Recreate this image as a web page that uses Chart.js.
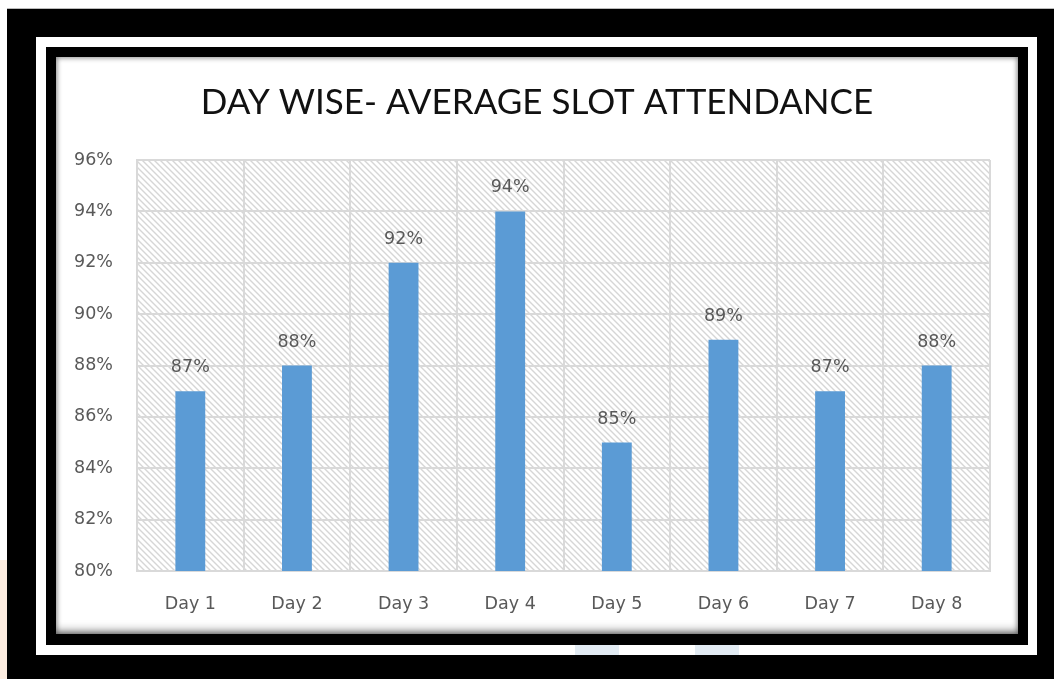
<!DOCTYPE html>
<html>
<head>
<meta charset="utf-8">
<script src="https://cdn.jsdelivr.net/npm/chart.js"></script>
<style>
  html, body { margin: 0; padding: 0; background: #fff; }
  #wrap { position: relative; width: 1054px; height: 679px; overflow: hidden; background: #fff; }
  .box { position: absolute; }
  #outer { left: 7px; top: 8px; width: 1047px; height: 671px; background: #000; border-top: 1px solid #bbb; }
  #band { left: 36px; top: 37px; width: 1001px; height: 618px; background: #fff; }
  #inner { left: 46px; top: 47px; width: 982px; height: 598px; background: #000; }
  #panel { left: 56px; top: 57px; width: 962px; height: 577px; background: #fff;
           box-shadow: inset 0 0 5px 1px rgba(0,0,0,0.45), inset 0 -9px 9px -5px rgba(0,0,0,0.35); }
  #tint1 { left: 0; top: 560px; width: 7px; height: 119px; background: #fcece0; }
  #tint2 { left: 575px; top: 645px; width: 44px; height: 10px; background: #e2ebf3; }
  #tint3 { left: 695px; top: 645px; width: 44px; height: 10px; background: #e2ebf3; }
  canvas { position: absolute; left: 0; top: 0; }
</style>
</head>
<body>
<div id="wrap">
  <div class="box" id="tint1"></div>
  <div class="box" id="outer"></div>
  <div class="box" id="band"></div>
  <div class="box" id="tint2"></div>
  <div class="box" id="tint3"></div>
  <div class="box" id="inner"></div>
  <div class="box" id="panel"></div>
  <canvas id="chart" width="1054" height="679"></canvas>
</div>
<script>
const days = ['Day 1', 'Day 2', 'Day 3', 'Day 4', 'Day 5', 'Day 6', 'Day 7', 'Day 8'];
const attendance = [87, 88, 92, 94, 85, 89, 87, 88];
const yMin = 80;
const yMax = 96;
const yStep = 2;

const tickFont = { family: '"DejaVu Sans", sans-serif', size: 17.5 };
const tickColor = '#595959';
const gridColor = '#d9d9d9';

function hatchPattern(ctx) {
    const c = document.createElement('canvas');
    c.width = 6; c.height = 6;
    const g = c.getContext('2d');
    g.fillStyle = '#ffffff';
    g.fillRect(0, 0, 6, 6);
    g.strokeStyle = '#d6d6d6';
    g.lineWidth = 1.4;
    g.beginPath();
    g.moveTo(-1, -1); g.lineTo(7, 7);
    g.moveTo(-1, 5); g.lineTo(1, 7);
    g.moveTo(5, -1); g.lineTo(7, 1);
    g.stroke();
    return ctx.createPattern(c, 'repeat');
}

const plotBackground = {
    id: 'plotBackground',
    beforeDraw(chart) {
        const { ctx, chartArea: a } = chart;
        ctx.save();
        ctx.fillStyle = hatchPattern(ctx);
        ctx.fillRect(a.left, a.top, a.right - a.left, a.bottom - a.top);
        ctx.restore();
    }
};

const valueLabels = {
    id: 'valueLabels',
    afterDatasetsDraw(chart) {
        const { ctx } = chart;
        const meta = chart.getDatasetMeta(0);
        ctx.save();
        ctx.font = `${tickFont.size}px ${tickFont.family}`;
        ctx.fillStyle = tickColor;
        ctx.textAlign = 'center';
        ctx.textBaseline = 'alphabetic';
        meta.data.forEach((bar, i) => {
            ctx.fillText(attendance[i] + '%', bar.x, bar.y - 19);
        });
        ctx.restore();
    }
};

new Chart(document.getElementById('chart'), {
    type: 'bar',
    data: {
        labels: days,
        datasets: [{
            data: attendance,
            backgroundColor: '#5b9bd5',
            borderWidth: 0,
            barPercentage: 0.28,
            categoryPercentage: 1
        }]
    },
    options: {
        responsive: false,
        animation: false,
        layout: { padding: { left: 56, right: 36, top: 57, bottom: 47 } },
        plugins: {
            legend: { display: false },
            tooltip: { enabled: false },
            title: {
                display: true,
                text: 'DAY WISE- AVERAGE SLOT ATTENDANCE',
                color: '#111111',
                font: { family: 'Lato, sans-serif', size: 35, weight: 'normal' },
                padding: { top: 25, bottom: 36 }
            }
        },
        scales: {
            x: {
                grid: { color: gridColor, lineWidth: 2, drawTicks: false },
                border: { color: gridColor, width: 2 },
                ticks: { color: tickColor, font: tickFont, padding: 23 },
                afterFit(s) { s.height = 61; }
            },
            y: {
                min: yMin,
                max: yMax,
                grid: { color: gridColor, lineWidth: 2, drawTicks: false },
                border: { color: gridColor, width: 2 },
                ticks: {
                    stepSize: yStep,
                    color: tickColor,
                    font: tickFont,
                    padding: 24,
                    callback: v => v + '%'
                },
                afterFit(s) { s.width = 81; }
            },
            yr: {
                position: 'right',
                grid: { display: false, drawTicks: false },
                border: { display: false },
                ticks: { display: false },
                afterFit(s) { s.width = 28; }
            }
        }
    },
    plugins: [plotBackground, valueLabels]
});
</script>
</body>
</html>
